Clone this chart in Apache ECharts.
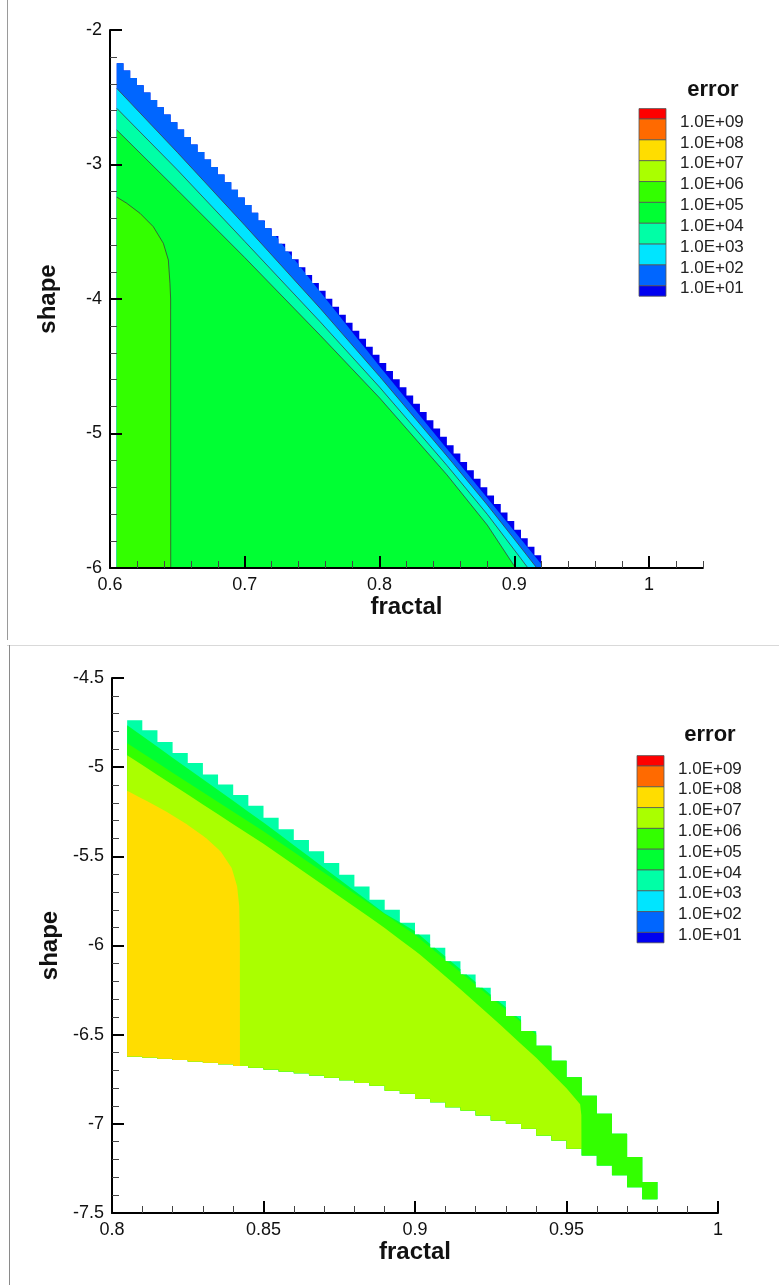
<!DOCTYPE html>
<html>
<head>
<meta charset="utf-8">
<script src="https://cdn.jsdelivr.net/npm/echarts@6/dist/echarts.min.js"></script>
<style>
  html, body { margin: 0; padding: 0; background: #fff; }
  #chart { width: 779px; height: 1285px; }
</style>
</head>
<body>
<div id="chart"></div>
<script>
// ---------- legend: contour levels and band colours ----------
const legendLabels = ['1.0E+09', '1.0E+08', '1.0E+07', '1.0E+06', '1.0E+05',
                      '1.0E+04', '1.0E+03', '1.0E+02', '1.0E+01'];
// bands from highest (above 1E+09) to lowest (below 1E+01)
const bandColors = ['#FF0000', '#FF6A00', '#FFDD00', '#AAFF00', '#33FF00',
                    '#00FF33', '#00FFA6', '#00E5FF', '#0066FF', '#0000F0'];
const C = {
  red: bandColors[0], orange: bandColors[1], yellow: bandColors[2], lime: bandColors[3],
  green1: bandColors[4], green2: bandColors[5], teal: bandColors[6], cyan: bandColors[7],
  blue: bandColors[8], navy: bandColors[9]
};

// ---------- upper plot: fractal 0.6 – 1.04, shape -6 – -2 ----------
const stepA = 0.005;          // column width of the computational grid
const firstColumnA = 0.605;   // left edge of the first valid column
const floorA = -6;            // columns run down to the axis floor
const columnTopA = [
  -2.248, -2.302, -2.356, -2.410, -2.465, -2.520, -2.574, -2.629, -2.685, -2.740,
  -2.795, -2.851, -2.907, -2.963, -3.019, -3.075, -3.132, -3.188, -3.245, -3.302,
  -3.359, -3.416, -3.474, -3.531, -3.589, -3.647, -3.705, -3.764, -3.822, -3.881,
  -3.939, -3.998, -4.057, -4.117, -4.176, -4.236, -4.295, -4.355, -4.415, -4.475,
  -4.536, -4.596, -4.657, -4.718, -4.779, -4.840, -4.902, -4.963, -5.025, -5.087,
  -5.149, -5.211, -5.273, -5.336, -5.399, -5.461, -5.525, -5.588, -5.651, -5.715,
  -5.778, -5.842, -5.906
];
// contour lines [fractal, shape]
const contourA_1E1 = [[0.60, -1.95], [0.73, -3.62], [0.80, -4.50], [0.92, -5.97], [0.95, -6.40]];
const contourA_1E2 = [[0.60, -2.38], [0.605, -2.434], [0.65, -2.91], [0.70, -3.452], [0.756, -4.07],
                      [0.80, -4.575], [0.85, -5.167], [0.88, -5.531], [0.90, -5.785], [0.93, -6.17]];
const contourA_1E3 = [[0.60, -2.53], [0.605, -2.582], [0.65, -3.04], [0.70, -3.572], [0.756, -4.17],
                      [0.80, -4.655], [0.85, -5.237], [0.88, -5.601], [0.90, -5.865], [0.92, -6.13]];
const contourA_1E4 = [[0.60, -2.69], [0.605, -2.743], [0.65, -3.19], [0.70, -3.692], [0.756, -4.27],
                      [0.80, -4.735], [0.85, -5.307], [0.88, -5.681], [0.90, -5.985], [0.91, -6.15]];
const contourA_1E5 = [[0.60, -3.20], [0.6045, -3.239], [0.6124, -3.288], [0.6223, -3.363], [0.6321, -3.462],
                      [0.6396, -3.586], [0.6433, -3.71], [0.6445, -3.884], [0.645, -4.0], [0.6451, -6.5], [1.0, -6.5]];

// ---------- lower plot: fractal 0.8 – 1.0, shape -7.5 – -4.5 ----------
const stepB = 0.005;
const firstColumnB = 0.805;
const columnTopB = [
  -4.737, -4.793, -4.859, -4.920, -4.976, -5.041, -5.097, -5.156, -5.216, -5.283,
  -5.348, -5.408, -5.471, -5.538, -5.603, -5.669, -5.743, -5.800, -5.873, -5.939,
  -6.013, -6.088, -6.162, -6.237, -6.311, -6.395, -6.479, -6.562, -6.646, -6.739,
  -6.842, -6.944, -7.056, -7.186, -7.326
];
const columnBottomB = [
  -6.622, -6.628, -6.635, -6.642, -6.650, -6.658, -6.666, -6.675, -6.685, -6.695,
  -6.706, -6.717, -6.729, -6.742, -6.756, -6.771, -6.787, -6.814, -6.832, -6.860,
  -6.879, -6.907, -6.925, -6.953, -6.982, -7.000, -7.028, -7.065, -7.093, -7.140,
  -7.177, -7.233, -7.289, -7.356, -7.423
];
const contourB_1E4 = [[0.80, -4.73], [0.805, -4.765], [0.85, -5.31], [0.89, -5.82], [0.90, -5.92], [0.99, -7.20]];
const contourB_1E5 = [[0.80, -4.83], [0.805, -4.866], [0.85, -5.36], [0.90, -5.94], [0.99, -7.20]];
const contourB_1E6 = [[0.80, -4.88], [0.805, -4.933], [0.85, -5.43], [0.8885, -5.883], [0.9016, -6.05],
                      [0.915, -6.245], [0.9285, -6.45], [0.940, -6.63], [0.950, -6.80], [0.9545, -6.89],
                      [0.9549, -6.95], [0.9551, -8.0], [0.99, -8.0]];
const contourB_1E7 = [[0.80, -5.09], [0.8046, -5.128], [0.8115, -5.19], [0.818, -5.25], [0.8247, -5.32],
                      [0.8312, -5.40], [0.836, -5.475], [0.8395, -5.565], [0.8413, -5.669], [0.842, -5.78],
                      [0.8422, -5.96], [0.8423, -8.0], [0.99, -8.0]];

// ---------- geometry helpers (data space) ----------
function lineY(line, x) {
  const n = line.length;
  let i = 0;
  if (x >= line[n - 1][0]) i = n - 2;
  else if (x > line[0][0]) { while (line[i + 1][0] < x) i++; }
  const [xa, ya] = line[i], [xb, yb] = line[i + 1];
  return ya + (yb - ya) * (x - xa) / (xb - xa);
}

function buildColumns(first, step, tops, bottoms) {
  return tops.map((top, i) => ({
    x0: +(first + i * step).toFixed(4),
    x1: +(first + (i + 1) * step).toFixed(4),
    top: top,
    bottom: Array.isArray(bottoms) ? bottoms[i] : bottoms
  }));
}

// region of the valid columns lying below a contour line (whole domain if line is null)
function regionBelow(cols, line) {
  const upper = [];
  cols.forEach(c => {
    if (!line) { upper.push([c.x0, c.top], [c.x1, c.top]); return; }
    let xs = [c.x0, c.x1];
    line.forEach(p => { if (p[0] > c.x0 && p[0] < c.x1) xs.push(p[0]); });
    xs.sort((a, b) => a - b);
    const cross = [];
    for (let i = 0; i < xs.length - 1; i++) {
      const xa = xs[i], xb = xs[i + 1], ya = lineY(line, xa), yb = lineY(line, xb);
      [c.top, c.bottom].forEach(h => {
        if ((ya - h) * (yb - h) < 0) cross.push(xa + (h - ya) / (yb - ya) * (xb - xa));
      });
    }
    xs = xs.concat(cross).sort((a, b) => a - b);
    xs.forEach(x => upper.push([x, Math.min(c.top, Math.max(c.bottom, lineY(line, x)))]));
  });
  const lower = [];
  cols.slice().reverse().forEach(c => { lower.push([c.x1, c.bottom], [c.x0, c.bottom]); });
  return upper.concat(lower);
}

// contour polyline trimmed to start at the domain's left edge
function trimFrom(line, xStart) {
  const out = [[xStart, lineY(line, xStart)]];
  line.forEach(p => { if (p[0] > xStart) out.push(p); });
  return out;
}

const colsA = buildColumns(firstColumnA, stepA, columnTopA, floorA);
const colsB = buildColumns(firstColumnB, stepB, columnTopB, columnBottomB);

const layersA = [
  { line: null, color: C.navy },
  { line: contourA_1E1, color: C.blue },
  { line: contourA_1E2, color: C.cyan },
  { line: contourA_1E3, color: C.teal },
  { line: contourA_1E4, color: C.green2 },
  { line: contourA_1E5, color: C.green1 }
].map(l => ({ color: l.color, poly: regionBelow(colsA, l.line) }));

const layersB = [
  { line: null, color: C.teal },
  { line: contourB_1E4, color: C.green2 },
  { line: contourB_1E5, color: C.green1 },
  { line: contourB_1E6, color: C.lime },
  { line: contourB_1E7, color: C.yellow }
].map(l => ({ color: l.color, poly: regionBelow(colsB, l.line) }));

function bandSeries(layers, gridIdx) {
  return {
    type: 'custom',
    coordinateSystem: 'cartesian2d',
    xAxisIndex: gridIdx, yAxisIndex: gridIdx,
    silent: true,
    z: 2,
    data: layers.map(l => l.poly[0]),
    renderItem: (params, api) => {
      const layer = layers[params.dataIndex];
      return {
        type: 'polygon',
        shape: { points: layer.poly.map(p => api.coord(p)) },
        style: { fill: layer.color }
      };
    }
  };
}

function contourLineSeries(line, gridIdx) {
  return {
    type: 'line',
    xAxisIndex: gridIdx, yAxisIndex: gridIdx,
    data: trimFrom(line, firstColumnA),
    showSymbol: false, silent: true, clip: true, z: 3,
    lineStyle: { color: '#3c3c3c', width: 0.9, opacity: 0.85 }
  };
}

// ---------- axes styling ----------
const FONT = '"Liberation Sans", Arial, Helvetica, sans-serif';
const axisBase = {
  axisLine: { show: true, onZero: false, lineStyle: { color: '#000', width: 2 } },
  axisTick: { show: true, inside: true, length: 12, lineStyle: { color: '#000', width: 2 } },
  minorTick: { show: true, splitNumber: 5, length: 7, lineStyle: { color: '#444', width: 1 } },
  splitLine: { show: false },
  axisLabel: { color: '#111', fontSize: 18, fontFamily: FONT, margin: 8 },
  nameTextStyle: { color: '#111', fontSize: 24, fontWeight: 'bold', fontFamily: FONT },
  z: 10
};
function axis(extra) { return Object.assign({}, JSON.parse(JSON.stringify(axisBase)), extra); }

const fractalTicksA = v => {
  const t = Math.round(v * 10);
  return (Math.abs(v * 10 - t) < 1e-6 && v < 1.0001) ? String(t / 10) : '';
};

// ---------- legend boxes ----------
function legendGraphics(boxX, boxW, firstBoundary, step, labelX, titleX, titleY) {
  const els = [];
  els.push({
    type: 'text', x: titleX, y: titleY,
    style: { text: 'error', fontSize: 22, fontWeight: 'bold', fontFamily: FONT, fill: '#111',
             align: 'center', verticalAlign: 'middle' }
  });
  const n = bandColors.length;
  const edges = [];
  for (let i = 0; i <= n; i++) {
    if (i === 0) edges.push(firstBoundary - step / 2);
    else if (i === n) edges.push(firstBoundary + (n - 2) * step + step / 2);
    else edges.push(firstBoundary + (i - 1) * step);
  }
  bandColors.forEach((col, i) => {
    els.push({
      type: 'rect',
      shape: { x: boxX, y: edges[i], width: boxW, height: edges[i + 1] - edges[i] },
      style: { fill: col, stroke: '#555', lineWidth: 0.8 }
    });
  });
  legendLabels.forEach((lab, i) => {
    els.push({
      type: 'text', x: labelX, y: firstBoundary + i * step + 3,
      style: { text: lab, fontSize: 17, fontFamily: FONT, fill: '#222', align: 'left', verticalAlign: 'middle' }
    });
  });
  return els;
}

// thin page frame lines around the two panels
const frameLines = [
  { type: 'line', shape: { x1: 7.5, y1: 0, x2: 7.5, y2: 640 }, style: { stroke: '#9a9a9a', lineWidth: 1 } },
  { type: 'line', shape: { x1: 7, y1: 645.5, x2: 779, y2: 645.5 }, style: { stroke: '#d9d9d9', lineWidth: 1 } },
  { type: 'line', shape: { x1: 9.5, y1: 645, x2: 9.5, y2: 1285 }, style: { stroke: '#8a8a8a', lineWidth: 1 } }
];

const kA = 1347.5;  // pixels per unit of fractal in the upper plot

const option = {
  backgroundColor: '#fff',
  animation: false,
  grid: [
    { left: 110, top: 30, width: 0.44 * kA, height: 538 },
    { left: 110, top: 30, width: 0.40 * kA, height: 538 },
    { left: 112, top: 678, width: 606, height: 535 }
  ],
  xAxis: [
    axis({
      gridIndex: 0, type: 'value', min: 0.6, max: 1.04, interval: 0.02,
      axisTick: { show: true, inside: true, length: 7, lineStyle: { color: '#444', width: 1 } },
      minorTick: { show: false },
      axisLabel: { color: '#111', fontSize: 18, fontFamily: FONT, margin: 8, formatter: fractalTicksA },
      name: 'fractal', nameLocation: 'middle', nameGap: 24
    }),
    axis({
      gridIndex: 1, type: 'value', min: 0.6, max: 1.0, interval: 0.1,
      axisLine: { show: false }, minorTick: { show: false }, axisLabel: { show: false }
    }),
    axis({
      gridIndex: 2, type: 'value', min: 0.8, max: 1.0, interval: 0.05,
      name: 'fractal', nameLocation: 'middle', nameGap: 24
    })
  ],
  yAxis: [
    axis({
      gridIndex: 0, type: 'value', min: -6, max: -2, interval: 1,
      name: 'shape', nameLocation: 'middle', nameGap: 50, nameRotate: 90
    }),
    { gridIndex: 1, type: 'value', min: -6, max: -2, show: false },
    axis({
      gridIndex: 2, type: 'value', min: -7.5, max: -4.5, interval: 0.5,
      name: 'shape', nameLocation: 'middle', nameGap: 50, nameRotate: 90
    })
  ],
  series: [
    bandSeries(layersA, 0),
    contourLineSeries(contourA_1E2, 0),
    contourLineSeries(contourA_1E3, 0),
    contourLineSeries(contourA_1E4, 0),
    contourLineSeries(contourA_1E5, 0),
    bandSeries(layersB, 2)
  ],
  graphic: [].concat(
    frameLines,
    legendGraphics(639, 27, 119, 20.85, 680, 713, 90),
    legendGraphics(637, 27, 766, 20.8, 678, 710, 735)
  )
};

const chart = echarts.init(document.getElementById('chart'), null, { renderer: 'canvas' });
chart.setOption(option);
</script>
</body>
</html>
